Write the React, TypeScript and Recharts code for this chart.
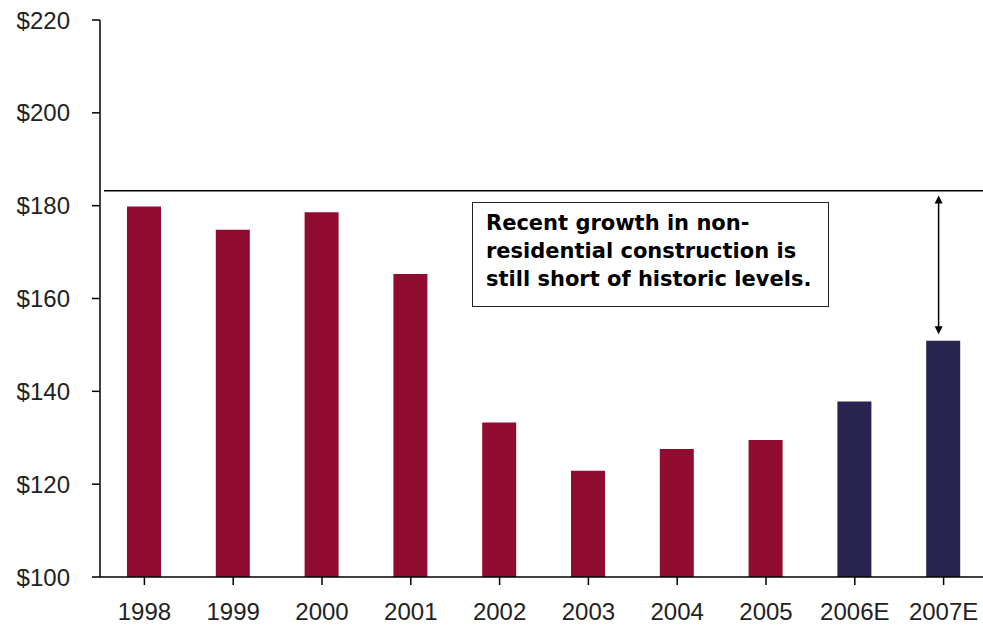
import React from 'react'
import { BarChart, Bar, XAxis, YAxis, Cell, ReferenceLine } from 'recharts'

const years = ['1998', '1999', '2000', '2001', '2002', '2003', '2004', '2005', '2006E', '2007E']
const spending = [179.8, 174.8, 178.6, 165.3, 133.3, 122.9, 127.6, 129.5, 137.8, 150.9]
const estimated = [false, false, false, false, false, false, false, false, true, true]
const yTicks = [100, 120, 140, 160, 180, 200, 220]
const historicLevel = 183.2
const arrowFrom = 182.2
const arrowTo = 152.3
const noteLines = ['Recent growth in non-', 'residential construction is', 'still short of historic levels.']

const data = years.map((year, i) => ({ year, value: spending[i], est: estimated[i] }))

const actualColor = '#8F0C30'
const estColor = '#29244F'
const tickStyle = { fontSize: 24, fill: '#222', fontFamily: '"Liberation Sans", Arial, sans-serif' }

const DoubleArrow = (props: any) => {
  const { x1, y1, y2 } = props
  const x = x1 - 5
  const top = Math.min(y1, y2)
  const bottom = Math.max(y1, y2)
  return (
    <g>
      <line x1={x} x2={x} y1={top + 6} y2={bottom - 6} stroke="#000" strokeWidth={1.5} />
      <polygon points={`${x},${top} ${x - 4},${top + 8} ${x + 4},${top + 8}`} fill="#000" />
      <polygon points={`${x},${bottom} ${x - 4},${bottom - 8} ${x + 4},${bottom - 8}`} fill="#000" />
    </g>
  )
}

// horizontal line starts a few px right of the axis, like the original
const HistoricLine = (props: any) => {
  const { x1, x2, y1 } = props
  return <line x1={x1 + 4} x2={x2} y1={y1} y2={y1} stroke="#000" strokeWidth={1.5} />
}

export default function App() {
  return (
    <div style={{ position: 'fixed', left: 0, top: 0, width: 983, height: 627, overflow: 'hidden', background: '#fff' }}>
      <BarChart width={1000} height={627} data={data} margin={{ top: 20, right: 12, bottom: 0, left: 0 }}>
        <XAxis
          dataKey="year"
          height={50}
          tick={tickStyle}
          tickSize={8}
          tickMargin={18}
          axisLine={{ stroke: '#000', strokeWidth: 1.5 }}
          tickLine={{ stroke: '#000', strokeWidth: 1.5 }}
          interval={0}
        />
        <YAxis
          width={100}
          domain={[100, 220]}
          ticks={yTicks}
          allowDataOverflow
          tickFormatter={(v: number) => `$${v}`}
          tick={tickStyle}
          tickSize={8}
          tickMargin={22}
          axisLine={{ stroke: '#000', strokeWidth: 1.5 }}
          tickLine={{ stroke: '#000', strokeWidth: 1.5 }}
        />
        <ReferenceLine y={historicLevel} shape={HistoricLine} />
        <ReferenceLine
          segment={[{ x: '2007E', y: arrowFrom }, { x: '2007E', y: arrowTo }]}
          shape={DoubleArrow}
        />
        <Bar dataKey="value" barSize={34} isAnimationActive={false}>
          {data.map((d, i) => (
            <Cell key={i} fill={d.est ? estColor : actualColor} />
          ))}
        </Bar>
      </BarChart>
      <div
        style={{
          position: 'absolute',
          left: 472,
          top: 202,
          width: 357,
          height: 105,
          border: '1.5px solid #222',
          boxSizing: 'border-box',
          padding: '6px 0 0 13px',
          fontFamily: '"DejaVu Sans", Verdana, sans-serif',
          fontWeight: 'bold',
          fontSize: 21,
          lineHeight: '28px',
          color: '#000',
          whiteSpace: 'nowrap',
        }}
      >
        {noteLines.map((l) => (
          <div key={l}>{l}</div>
        ))}
      </div>
    </div>
  )
}
